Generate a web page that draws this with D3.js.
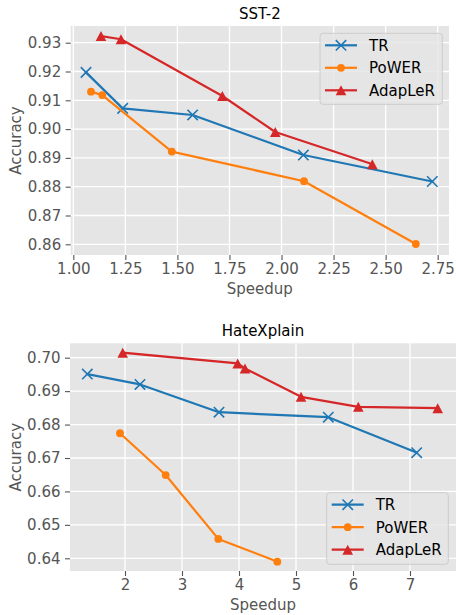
<!DOCTYPE html>
<html>
<head>
<meta charset="utf-8">
<script src="https://cdn.jsdelivr.net/npm/d3@7"></script>
<style>
  html, body { margin: 0; padding: 0; background: #ffffff; }
  svg { display: block; font-family: "DejaVu Sans", sans-serif; }
</style>
</head>
<body>
<svg id="chart" width="456" height="615"></svg>
<script>
// ---------- DATA ----------
const seriesNames = ["TR", "PoWER", "AdapLeR"];

// SST-2
const sstTRSpeed = [1.061, 1.237, 1.573, 2.105, 2.724];
const sstTRAcc   = [0.9197, 0.9072, 0.9049, 0.8910, 0.8818];
const sstPoWERSpeed = [1.085, 1.139, 1.473, 2.108, 2.645];
const sstPoWERAcc   = [0.9130, 0.9118, 0.8922, 0.8819, 0.8601];
const sstAdapSpeed = [1.133, 1.229, 1.716, 1.970, 2.436];
const sstAdapAcc   = [0.9323, 0.9312, 0.9115, 0.8990, 0.8878];

// HateXplain
const hxTRSpeed = [1.339, 2.263, 3.649, 5.567, 7.117];
const hxTRAcc   = [0.6951, 0.6920, 0.6837, 0.6822, 0.6716];
const hxPoWERSpeed = [1.912, 2.714, 3.637, 4.672];
const hxPoWERAcc   = [0.6774, 0.6649, 0.6458, 0.6390];
const hxAdapSpeed = [1.960, 3.977, 4.105, 5.088, 6.093, 7.486];
const hxAdapAcc   = [0.7015, 0.6983, 0.6968, 0.6883, 0.6853, 0.6849];

// Tick labels
const sstXTicks = [1.00, 1.25, 1.50, 1.75, 2.00, 2.25, 2.50, 2.75];
const sstYTicks = [0.86, 0.87, 0.88, 0.89, 0.90, 0.91, 0.92, 0.93];
const hxXTicks = [2, 3, 4, 5, 6, 7];
const hxYTicks = [0.64, 0.65, 0.66, 0.67, 0.68, 0.69, 0.70];

// ---------- STYLE ----------
const colors = {TR: "#1f77b4", PoWER: "#ff7f0e", AdapLeR: "#d62728"};
const markers = {TR: "x", PoWER: "o", AdapLeR: "^"};
const FONT = 15;
const svg = d3.select("#chart");

function zipPts(xs, ys) { return xs.map((x, i) => ({x: x, y: ys[i]})); }

function drawMarker(g, type, color, cx, cy) {
  if (type === "x") {
    const s = 5.2;
    g.append("path")
      .attr("d", `M${cx - s},${cy - s}L${cx + s},${cy + s}M${cx - s},${cy + s}L${cx + s},${cy - s}`)
      .attr("stroke", color).attr("stroke-width", 1.6).attr("fill", "none");
  } else if (type === "o") {
    g.append("circle").attr("cx", cx).attr("cy", cy).attr("r", 3.9).attr("fill", color);
  } else {
    const w = 5.3, h = 5.0;
    g.append("path")
      .attr("d", `M${cx},${cy - h}L${cx + w},${cy + h}L${cx - w},${cy + h}Z`)
      .attr("fill", color);
  }
}

function drawPanel(cfg) {
  const {left, right, top, bottom, xDomain, yDomain, xTicks, yTicks, xFmt, yFmt, title, series, legend} = cfg;
  const x = d3.scaleLinear().domain(xDomain).range([left, right]);
  const y = d3.scaleLinear().domain(yDomain).range([bottom, top]);
  const g = svg.append("g");

  // panel background
  g.append("rect").attr("x", left).attr("y", top)
    .attr("width", right - left).attr("height", bottom - top).attr("fill", "#e5e5e5");

  // grid
  g.append("g").selectAll("line").data(xTicks).join("line")
    .attr("x1", d => x(d)).attr("x2", d => x(d)).attr("y1", top).attr("y2", bottom)
    .attr("stroke", "#ffffff").attr("stroke-width", 1.3);
  g.append("g").selectAll("line").data(yTicks).join("line")
    .attr("y1", d => y(d)).attr("y2", d => y(d)).attr("x1", left).attr("x2", right)
    .attr("stroke", "#ffffff").attr("stroke-width", 1.3);

  // axes
  const xAxis = d3.axisBottom(x).tickValues(xTicks).tickFormat(xFmt).tickSizeInner(5).tickSizeOuter(0).tickPadding(3);
  const yAxis = d3.axisLeft(y).tickValues(yTicks).tickFormat(yFmt).tickSizeInner(5).tickSizeOuter(0).tickPadding(4.5);
  const gx = g.append("g").attr("transform", `translate(0,${bottom})`).call(xAxis);
  const gy = g.append("g").attr("transform", `translate(${left},0)`).call(yAxis);
  [gx, gy].forEach(a => {
    a.select(".domain").remove();
    a.selectAll(".tick line").attr("stroke", "#555555").attr("stroke-width", 1.1);
    a.selectAll(".tick text").attr("fill", "#555555").attr("font-size", FONT)
      .attr("font-family", "DejaVu Sans");
  });

  // title
  g.append("text").attr("x", (left + right) / 2).attr("y", top - 7)
    .attr("text-anchor", "middle").attr("font-size", FONT).attr("fill", "#000000").text(title);
  // x label
  g.append("text").attr("x", (left + right) / 2).attr("y", bottom + 39)
    .attr("text-anchor", "middle").attr("font-size", FONT).attr("fill", "#555555").text("Speedup");
  // y label
  g.append("text").attr("transform", `translate(21,${(top + bottom) / 2}) rotate(-90)`)
    .attr("text-anchor", "middle").attr("font-size", FONT).attr("fill", "#555555").text("Accuracy");

  // lines & markers
  const line = d3.line().x(d => x(d.x)).y(d => y(d.y));
  series.forEach(s => {
    g.append("path").datum(s.pts).attr("d", line)
      .attr("fill", "none").attr("stroke", colors[s.name]).attr("stroke-width", 2.2)
      .attr("stroke-linejoin", "round").attr("stroke-linecap", "square");
    const mg = g.append("g");
    s.pts.forEach(p => drawMarker(mg, markers[s.name], colors[s.name], x(p.x), y(p.y)));
  });

  // legend
  const lg = g.append("g");
  lg.append("rect").attr("x", legend.x).attr("y", legend.y).attr("width", legend.w).attr("height", legend.h)
    .attr("rx", 3).attr("fill", "#e5e5e5").attr("fill-opacity", 0.8)
    .attr("stroke", "#cccccc").attr("stroke-width", 1);
  seriesNames.forEach((name, i) => {
    const cy = legend.y + 12 + i * 22.5;
    const x0 = legend.x + 5, x1 = legend.x + 37;
    lg.append("line").attr("x1", x0).attr("x2", x1).attr("y1", cy).attr("y2", cy)
      .attr("stroke", colors[name]).attr("stroke-width", 2.2);
    drawMarker(lg, markers[name], colors[name], (x0 + x1) / 2, cy);
    lg.append("text").attr("x", legend.x + 49).attr("y", cy).attr("dy", "0.36em")
      .attr("font-size", FONT).attr("fill", "#000000").text(name);
  });
}

const fmt2 = d3.format(".2f");

drawPanel({
  left: 70.7, right: 449, top: 26, bottom: 255,
  xDomain: [0.9875, 2.8043], yDomain: [0.85628, 0.9358],
  xTicks: sstXTicks, yTicks: sstYTicks, xFmt: fmt2, yFmt: fmt2,
  title: "SST-2",
  series: [
    {name: "TR", pts: zipPts(sstTRSpeed, sstTRAcc)},
    {name: "PoWER", pts: zipPts(sstPoWERSpeed, sstPoWERAcc)},
    {name: "AdapLeR", pts: zipPts(sstAdapSpeed, sstAdapAcc)}
  ],
  legend: {x: 320, y: 33.3, w: 122.3, h: 71}
});

drawPanel({
  left: 70, right: 456, top: 343.3, bottom: 571,
  xDomain: [1.035, 7.807], yDomain: [0.6362, 0.70431],
  xTicks: hxXTicks, yTicks: hxYTicks, xFmt: d3.format("d"), yFmt: fmt2,
  title: "HateXplain",
  series: [
    {name: "TR", pts: zipPts(hxTRSpeed, hxTRAcc)},
    {name: "PoWER", pts: zipPts(hxPoWERSpeed, hxPoWERAcc)},
    {name: "AdapLeR", pts: zipPts(hxAdapSpeed, hxAdapAcc)}
  ],
  legend: {x: 326.7, y: 492.7, w: 121.6, h: 71.6}
});
</script>
</body>
</html>
